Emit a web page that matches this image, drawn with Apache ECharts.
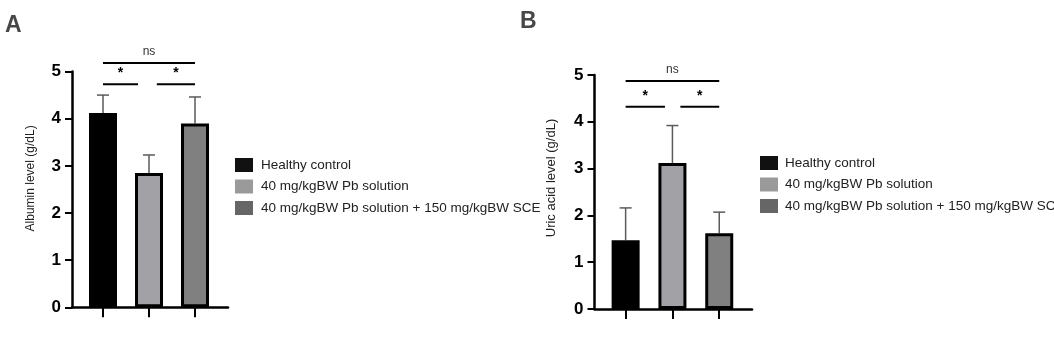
<!DOCTYPE html>
<html>
<head>
<meta charset="utf-8">
<script src="https://cdn.jsdelivr.net/npm/echarts@6/dist/echarts.min.js"></script>
<style>
  html, body { margin: 0; padding: 0; background: #fff; }
  #chart { width: 1054px; height: 341px; }
</style>
</head>
<body>
<div id="chart"></div>
<script>
// Groups (legend entries), one bar per group in each panel
const groups = ['Healthy control', '40 mg/kgBW Pb solution', '40 mg/kgBW Pb solution + 150 mg/kgBW SCE'];

// Panel A: albumin, mean and SD
const albuminMean = [4.12, 2.85, 3.90];
const albuminSD = [0.38, 0.38, 0.56];

// Panel B: uric acid, mean and SD
const uricMean = [1.47, 3.12, 1.62];
const uricSD = [0.69, 0.80, 0.45];

// Significance brackets: [from group, to group, height, text]
const albuminSig = [[0, 2, 5.18, 'ns'], [0, 0.76, 4.73, '*'], [1.17, 2, 4.73, '*']];
const uricSig = [[0, 2, 4.87, 'ns'], [0, 0.84, 4.32, '*'], [1.17, 2, 4.32, '*']];

const yTicks = [0, 1, 2, 3, 4, 5];

const barFill = ['#000000', '#a2a2a6', '#808080'];
const legendFill = ['#111111', '#9a9a9a', '#666666'];
const FONT = '"Liberation Sans", Arial, sans-serif';

const chart = echarts.init(document.getElementById('chart'), null, { renderer: 'canvas' });

function yAxisCfg(gridIndex, name, gap, size, lift) {
  return {
    type: 'value', gridIndex, min: yTicks[0], max: yTicks[yTicks.length - 1], interval: 1,
    name, nameLocation: 'middle', nameGap: gap, nameRotate: 90,
    nameTextStyle: { fontFamily: FONT, fontSize: size, color: '#222', padding: [0, 0, 0, lift] },
    axisLine: { show: true, onZero: false, lineStyle: { color: '#000', width: 2.5 } },
    axisTick: { show: true, length: 7, lineStyle: { color: '#000', width: 2 } },
    axisLabel: { margin: 11, fontFamily: FONT, fontSize: 17, fontWeight: 'bold', color: '#000' },
    splitLine: { show: false }
  };
}

function xAxisCfg(gridIndex, min, max) {
  return {
    type: 'value', gridIndex, min, max,
    axisLine: { show: true, onZero: false, lineStyle: { color: '#000', width: 2.5 } },
    axisTick: { show: true, length: 10, customValues: [0, 1, 2], lineStyle: { color: '#000', width: 2 } },
    axisLabel: { show: false },
    splitLine: { show: false }
  };
}

function barSeries(axisIndex, means) {
  return groups.map((g, i) => ({
    type: 'bar', name: g, xAxisIndex: axisIndex, yAxisIndex: axisIndex,
    data: [[i, means[i]]], barWidth: 28, barGap: '-100%', z: 3,
    itemStyle: { color: barFill[i], borderColor: '#000', borderWidth: 3 },
    emphasis: { disabled: true }
  }));
}

function errorSeries(axisIndex, means, sds) {
  return {
    type: 'custom', xAxisIndex: axisIndex, yAxisIndex: axisIndex, z: 2, silent: true,
    data: means.map((m, i) => [i, m, sds[i]]),
    renderItem(params, api) {
      const x = api.value(0), m = api.value(1), s = api.value(2);
      const p0 = api.coord([x, m]);
      const p1 = api.coord([x, m + s]);
      const st = { stroke: '#5a5a5a', lineWidth: 1.5 };
      return {
        type: 'group', children: [
          { type: 'line', shape: { x1: p0[0], y1: p0[1], x2: p1[0], y2: p1[1] }, style: st },
          { type: 'line', shape: { x1: p1[0] - 6, y1: p1[1], x2: p1[0] + 6, y2: p1[1] }, style: st }
        ]
      };
    }
  };
}

function sigSeries(axisIndex, sig) {
  return {
    type: 'custom', xAxisIndex: axisIndex, yAxisIndex: axisIndex, z: 4, silent: true, clip: false,
    data: sig.map(s => [s[0], s[1], s[2]]),
    renderItem(params, api) {
      const a = api.coord([api.value(0), api.value(2)]);
      const b = api.coord([api.value(1), api.value(2)]);
      const txt = sig[params.dataIndex][3];
      const isStar = txt === '*';
      return {
        type: 'group', children: [
          { type: 'line', shape: { x1: a[0], y1: a[1], x2: b[0], y2: b[1] }, style: { stroke: '#000', lineWidth: 2 } },
          {
            type: 'text',
            style: {
              text: txt, x: (a[0] + b[0]) / 2, y: a[1] - (isStar ? 4 : 5),
              align: 'center', verticalAlign: 'bottom',
              font: isStar ? 'bold 14px ' + FONT : '12px ' + FONT,
              fill: isStar ? '#000' : '#333'
            }
          }
        ]
      };
    }
  };
}

function legendCfg(left, top, textPad) {
  return {
    orient: 'vertical', left, top, padding: 0, itemWidth: 18, itemHeight: 14, itemGap: 7.5,
    selectedMode: false,
    textStyle: { fontFamily: FONT, fontSize: 13.5, color: '#222', padding: [0, 0, 0, textPad] },
    data: groups.map((g, i) => ({
      name: g, icon: 'rect',
      itemStyle: { color: legendFill[i], borderWidth: 0 }
    }))
  };
}

chart.setOption({
  animation: false,
  backgroundColor: '#fff',
  grid: [
    { left: 72, top: 71.5, width: 156, height: 235.8 },
    { left: 594.5, top: 75, width: 157.5, height: 234 }
  ],
  xAxis: [xAxisCfg(0, -0.674, 2.717), xAxisCfg(1, -0.665, 2.70)],
  yAxis: [
    yAxisCfg(0, 'Albumin level (g/dL)', 35, 12, 22),
    yAxisCfg(1, 'Uric acid level (g/dL)', 37, 13, 28)
  ],
  legend: [legendCfg(235, 158, 3), legendCfg(760, 156, 2)],
  graphic: [
    { type: 'text', left: 5, top: 14, style: { text: 'A', font: 'bold 23px ' + FONT, fill: '#474747' } },
    { type: 'text', left: 520, top: 10, style: { text: 'B', font: 'bold 23px ' + FONT, fill: '#474747' } }
  ],
  series: [
    errorSeries(0, albuminMean, albuminSD),
    ...barSeries(0, albuminMean),
    sigSeries(0, albuminSig),
    errorSeries(1, uricMean, uricSD),
    ...barSeries(1, uricMean),
    sigSeries(1, uricSig)
  ]
});
</script>
</body>
</html>
